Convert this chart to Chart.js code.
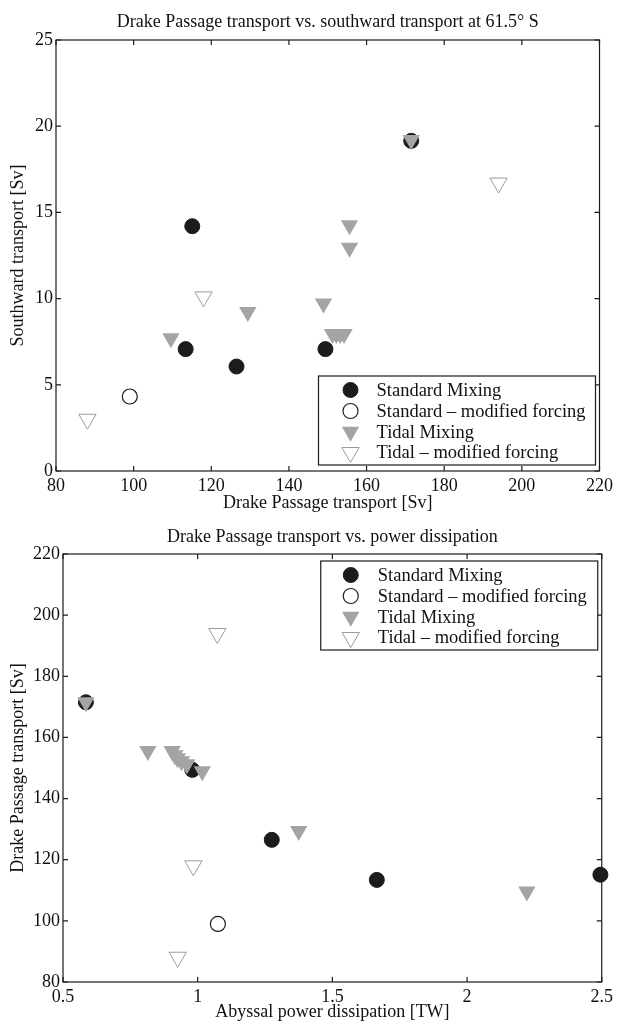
<!DOCTYPE html>
<html>
<head>
<meta charset="utf-8">
<script src="https://cdn.jsdelivr.net/npm/chart.js@4/dist/chart.umd.min.js"></script>
<style>
  html, body { margin: 0; padding: 0; background: #fff; }
  .panel { position: absolute; left: 0; }
  #top { top: 0; }
  #bottom { top: 515px; }
</style>
</head>
<body>
<div class="panel" id="top"><canvas id="southChart" width="617" height="515"></canvas></div>
<div class="panel" id="bottom"><canvas id="powerChart" width="617" height="507"></canvas></div>
<script>
// Standard Mixing runs
const stdDrake = [171.5, 115.1, 113.4, 126.5, 149.4];
const stdSouth = [19.15, 14.2, 7.07, 6.06, 7.07];
const stdPower = [0.585, 2.495, 1.665, 1.275, 0.98];

// Standard - modified forcing
const stdModDrake = [99.0];
const stdModSouth = [4.32];
const stdModPower = [1.075];

// Tidal Mixing runs
const tidDrake = [171.5, 155.6, 155.6, 154.2, 153.2, 152.2, 151.2, 148.9, 129.4, 109.6];
const tidSouth = [19.2, 14.25, 12.95, 7.95, 7.95, 7.95, 7.95, 9.72, 9.22, 7.7];
const tidPower = [0.585, 0.815, 0.905, 0.915, 0.925, 0.94, 0.96, 1.017, 1.375, 2.222];

// Tidal - modified forcing
const tidModDrake = [194.0, 118.0, 88.1];
const tidModSouth = [16.7, 10.1, 3.0];
const tidModPower = [1.073, 0.984, 0.926];

const southTicks = [0, 5, 10, 15, 20, 25];
const drakeTicks = [80, 100, 120, 140, 160, 180, 200, 220];
const powerTicks = [0.5, 1, 1.5, 2, 2.5];

const FONT = "'Liberation Serif', 'Times New Roman', serif";
const DARK = '#1c1c1c';
const GREY = '#a4a4a4';
const LIGHT = '#9c9c9c';

const pairs = (xs, ys) => xs.map((v, i) => ({ x: v, y: ys[i] }));

const styles = [
  { label: 'Standard Mixing', pointStyle: 'circle', pointRadius: 7.5, pointRotation: 0,
    pointBackgroundColor: DARK, pointBorderColor: DARK, pointBorderWidth: 1, order: 2 },
  { label: 'Standard \u2013 modified forcing', pointStyle: 'circle', pointRadius: 7.5, pointRotation: 0,
    pointBackgroundColor: '#fff', pointBorderColor: DARK, pointBorderWidth: 1.2, order: 3 },
  { label: 'Tidal Mixing', pointStyle: 'triangle', pointRadius: 10, pointRotation: 180,
    pointBackgroundColor: GREY, pointBorderColor: GREY, pointBorderWidth: 0, order: 1 },
  { label: 'Tidal \u2013 modified forcing', pointStyle: 'triangle', pointRadius: 10, pointRotation: 180,
    pointBackgroundColor: 'rgba(255,255,255,0)', pointBorderColor: LIGHT, pointBorderWidth: 1, order: 0 }
];

function makeDatasets(seriesData) {
  return seriesData.map((d, i) => Object.assign({}, styles[i], {
    data: d, showLine: false, clip: false, pointHoverRadius: styles[i].pointRadius
  }));
}

// box frame with inward tick marks on all four sides
const frameTicks = {
  id: 'frameTicks',
  beforeDatasetsDraw(chart) {
    const { ctx, chartArea: a, scales } = chart;
    const len = 5;
    ctx.save();
    ctx.strokeStyle = DARK;
    ctx.lineWidth = 1.2;
    ctx.strokeRect(a.left, a.top, a.right - a.left, a.bottom - a.top);
    ctx.beginPath();
    scales.x.ticks.forEach(t => {
      const px = scales.x.getPixelForValue(t.value);
      ctx.moveTo(px, a.bottom); ctx.lineTo(px, a.bottom - len);
      ctx.moveTo(px, a.top); ctx.lineTo(px, a.top + len);
    });
    scales.y.ticks.forEach(t => {
      const py = scales.y.getPixelForValue(t.value);
      ctx.moveTo(a.left, py); ctx.lineTo(a.left + len, py);
      ctx.moveTo(a.right, py); ctx.lineTo(a.right - len, py);
    });
    ctx.stroke();
    ctx.restore();
  }
};

function drawMarker(ctx, ds, x, y) {
  ctx.save();
  ctx.fillStyle = ds.pointBackgroundColor;
  ctx.strokeStyle = ds.pointBorderColor;
  ctx.lineWidth = ds.pointBorderWidth;
  ctx.beginPath();
  if (ds.pointStyle === 'circle') {
    ctx.arc(x, y, ds.pointRadius, 0, Math.PI * 2);
  } else {
    const r = ds.pointRadius;
    const h = r * Math.sqrt(3) / 2;
    ctx.moveTo(x, y + r);
    ctx.lineTo(x - h, y - r / 2);
    ctx.lineTo(x + h, y - r / 2);
    ctx.closePath();
  }
  ctx.fill();
  if (ds.pointBorderWidth > 0) ctx.stroke();
  ctx.restore();
}

// boxed legend inside the plot area
const boxLegend = {
  id: 'boxLegend',
  afterDatasetsDraw(chart, args, opts) {
    const { ctx, chartArea: a } = chart;
    const w = 277, h = 89;
    const left = a.right - opts.right - w;
    const top = opts.top != null ? a.top + opts.top : a.bottom - opts.bottom - h;
    const rows = [14, 35, 55.8, 76.5];
    ctx.save();
    ctx.fillStyle = '#fff';
    ctx.fillRect(left, top, w, h);
    ctx.strokeStyle = DARK;
    ctx.lineWidth = 1.2;
    ctx.strokeRect(left, top, w, h);
    ctx.font = '18.5px ' + FONT;
    ctx.textBaseline = 'middle';
    ctx.textAlign = 'left';
    styles.forEach((ds, i) => {
      const y = top + rows[i];
      drawMarker(ctx, ds, left + opts.markerX, y);
      ctx.fillStyle = '#111';
      ctx.fillText(ds.label, left + opts.textX, y + 1);
    });
    ctx.restore();
  }
};

function axis(min, max, step, title, fixed, isX, titlePad) {
  return {
    type: 'linear',
    min: min, max: max,
    grid: { display: false, drawTicks: false },
    border: { display: false },
    ticks: {
      stepSize: step,
      color: '#111',
      padding: isX ? 4 : 3,
      font: { family: FONT, size: 18 },
      maxRotation: 0,
      autoSkip: false,
      callback: v => String(v)
    },
    title: {
      display: true, text: title, color: '#111',
      font: { family: FONT, size: 18, lineHeight: 1.1 },
      padding: titlePad
    },
    afterFit(scale) {
      if (isX) scale.height = fixed; else scale.width = fixed;
    }
  };
}

function baseOptions(titleText, pad, titlePad, xAxis, yAxis, legendOpts) {
  return {
    responsive: false,
    animation: false,
    events: [],
    layout: { padding: pad },
    scales: { x: xAxis, y: yAxis },
    plugins: {
      legend: { display: false },
      tooltip: { enabled: false },
      title: {
        display: true, text: titleText, fullSize: false, color: '#111',
        font: { family: FONT, size: 18, weight: 'normal', lineHeight: 1.2 },
        padding: titlePad
      },
      boxLegend: legendOpts
    }
  };
}

new Chart(document.getElementById('southChart'), {
  type: 'scatter',
  data: {
    datasets: makeDatasets([
      pairs(stdDrake, stdSouth),
      pairs(stdModDrake, stdModSouth),
      pairs(tidDrake, tidSouth),
      pairs(tidModDrake, tidModSouth)
    ])
  },
  options: baseOptions(
    'Drake Passage transport vs. southward transport at 61.5\u00b0 S',
    { left: 0, right: 16, top: 0, bottom: 0 },
    { top: 11, bottom: 7.4 },
    axis(drakeTicks[0], drakeTicks[drakeTicks.length - 1], 20, 'Drake Passage transport [Sv]', 44, true, { top: 0, bottom: 2 }),
    axis(southTicks[0], southTicks[southTicks.length - 1], 5, 'Southward transport [Sv]', 56, false, { top: 8, bottom: 0 }),
    { right: 4, bottom: 6, markerX: 32, textX: 58 }
  ),
  plugins: [frameTicks, boxLegend]
});

new Chart(document.getElementById('powerChart'), {
  type: 'scatter',
  data: {
    datasets: makeDatasets([
      pairs(stdPower, stdDrake),
      pairs(stdModPower, stdModDrake),
      pairs(tidPower, tidDrake),
      pairs(tidModPower, tidModDrake)
    ])
  },
  options: baseOptions(
    'Drake Passage transport vs. power dissipation',
    { left: 0, right: 14, top: 0, bottom: 0 },
    { top: 11, bottom: 6.4 },
    axis(powerTicks[0], powerTicks[powerTicks.length - 1], 0.5, 'Abyssal power dissipation [TW]', 40, true, { top: 0, bottom: 0 }),
    axis(drakeTicks[0], drakeTicks[drakeTicks.length - 1], 20, 'Drake Passage transport [Sv]', 63, false, { top: 8, bottom: 0 }),
    { right: 4, top: 7, markerX: 30, textX: 57 }
  ),
  plugins: [frameTicks, boxLegend]
});
</script>
</body>
</html>
